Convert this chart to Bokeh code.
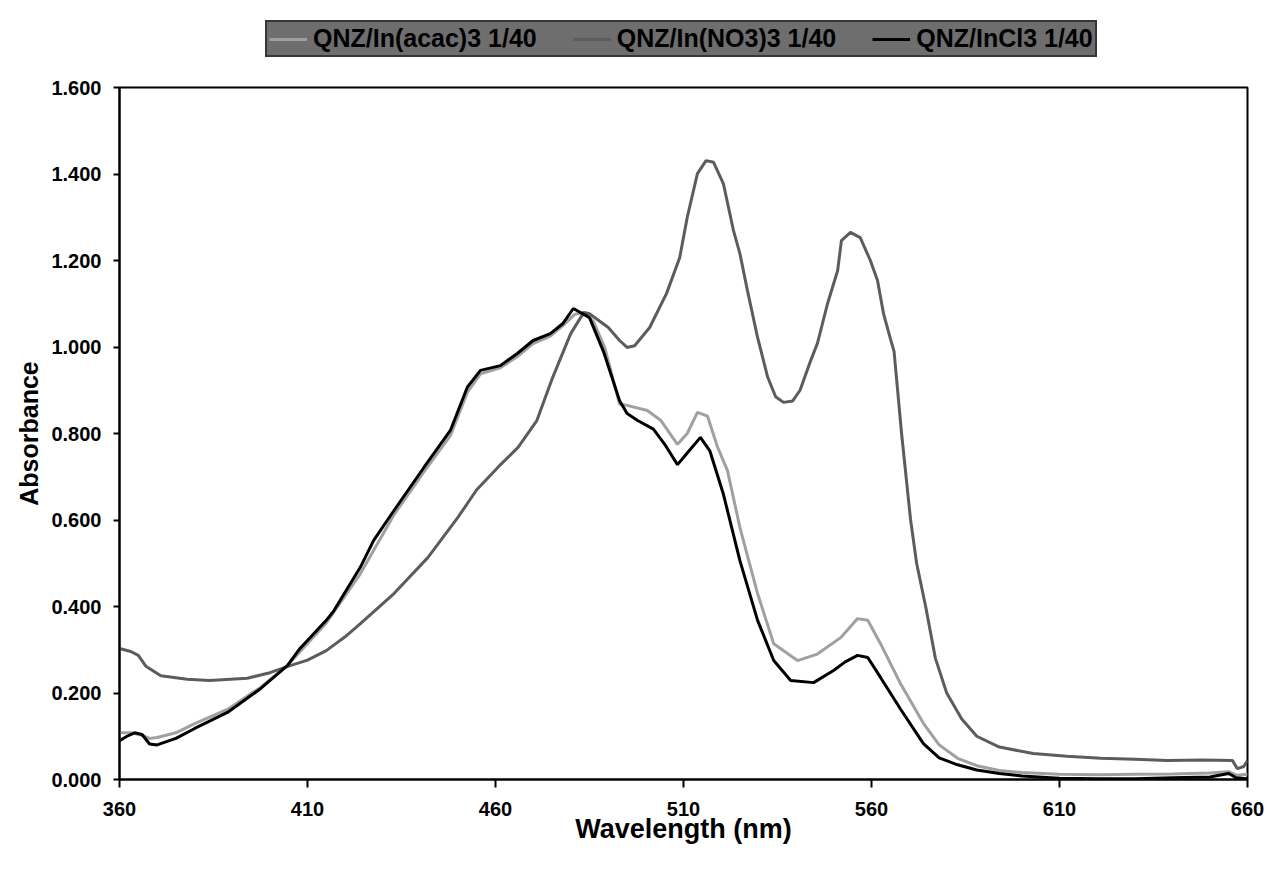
from bokeh.plotting import figure
from bokeh.layouts import column
from bokeh.models import Legend, LegendItem, FixedTicker, NumeralTickFormatter, Range1d
from bokeh.embed import file_html
from bokeh.resources import INLINE

# ---- data ----
wl_acac = [360, 363, 366, 368, 370, 375, 380, 388.7, 397.5, 404.7, 415, 424, 433, 441, 448,
           452.5, 456, 461.3, 465.8, 470, 474.6, 478, 481, 483.4, 486, 489, 493, 495, 500.4,
           504, 508.4, 511, 513.7, 516.4, 519, 521.7, 525, 529.7, 534, 540.3, 545.6, 551.8,
           556.3, 559, 562.4, 567.7, 573.8, 578, 582.9, 588, 594, 600, 610, 620, 630, 640,
           650, 655, 657, 660]
abs_acac = [0.108, 0.108, 0.102, 0.095, 0.097, 0.108, 0.129, 0.162, 0.213, 0.264, 0.362,
            0.475, 0.612, 0.712, 0.795, 0.895, 0.938, 0.952, 0.978, 1.008, 1.025, 1.050,
            1.075, 1.080, 1.060, 1.000, 0.868, 0.865, 0.853, 0.830, 0.775, 0.800, 0.849,
            0.840, 0.770, 0.714, 0.583, 0.430, 0.314, 0.275, 0.290, 0.328, 0.372, 0.368,
            0.314, 0.222, 0.130, 0.080, 0.049, 0.032, 0.021, 0.016, 0.012, 0.011, 0.012,
            0.013, 0.015, 0.018, 0.010, 0.012]

wl_no3 = [360, 363, 365, 367, 371, 378, 384, 394, 400, 405, 410, 415, 420, 424, 433, 442,
          450, 455, 461, 466, 471, 475, 480, 483.5, 485, 490, 493, 495, 497, 501, 505.5,
          509, 511, 513.7, 516, 518, 520.6, 523.3, 525, 527, 529.7, 532.4, 534.5, 536.6,
          539, 541, 543.8, 545.6, 548.3, 551, 552, 554.4, 557, 559.7, 561.6, 563.2, 565,
          566, 568, 570.4, 572, 574.4, 577, 580, 584, 588, 594, 603, 612, 621, 630, 638.7,
          648, 656, 657.3, 659, 660]
abs_no3 = [0.303, 0.296, 0.287, 0.262, 0.240, 0.232, 0.229, 0.234, 0.247, 0.262, 0.276,
           0.298, 0.330, 0.360, 0.430, 0.513, 0.606, 0.670, 0.725, 0.768, 0.830, 0.925,
           1.031, 1.080, 1.077, 1.045, 1.015, 0.999, 1.003, 1.045, 1.124, 1.207, 1.300,
           1.401, 1.431, 1.427, 1.378, 1.269, 1.216, 1.131, 1.022, 0.930, 0.885, 0.872,
           0.875, 0.900, 0.968, 1.008, 1.100, 1.177, 1.246, 1.265, 1.253, 1.200, 1.154,
           1.077, 1.020, 0.990, 0.800, 0.600, 0.500, 0.400, 0.280, 0.200, 0.140, 0.100,
           0.075, 0.060, 0.054, 0.049, 0.047, 0.044, 0.045, 0.044, 0.025, 0.030, 0.044]

wl_incl = [360, 362, 364, 366, 368, 370, 375, 380, 388.7, 397.5, 404.7, 408, 415, 417, 424,
           427.6, 433, 441, 448, 452.5, 456, 461.3, 465.8, 470, 474.6, 478, 480.7, 485,
           488.7, 493, 495, 497.8, 502, 505, 508.4, 511, 514.5, 517, 520.6, 525, 529.7, 534,
           538.5, 544.6, 549.9, 553, 556.3, 559, 562.4, 567.7, 573.8, 578, 582.9, 588, 594,
           600, 610, 620, 630, 640, 650, 655, 657, 660]
abs_incl = [0.090, 0.100, 0.108, 0.104, 0.082, 0.080, 0.095, 0.118, 0.155, 0.210, 0.264,
            0.303, 0.368, 0.390, 0.490, 0.553, 0.622, 0.722, 0.807, 0.907, 0.946, 0.957,
            0.985, 1.015, 1.031, 1.055, 1.089, 1.068, 0.990, 0.876, 0.846, 0.830, 0.810,
            0.775, 0.728, 0.755, 0.791, 0.760, 0.660, 0.506, 0.368, 0.275, 0.229, 0.224,
            0.252, 0.272, 0.287, 0.282, 0.236, 0.163, 0.083, 0.050, 0.034, 0.022, 0.014,
            0.008, 0.003, 0.002, 0.002, 0.004, 0.006, 0.014, 0.004, 0.002]

labels = ["QNZ/In(acac)3 1/40", "QNZ/In(NO3)3 1/40", "QNZ/InCl3 1/40"]
colors = ["#a0a0a0", "#5c5c5c", "black"]
x_ticks = [360, 410, 460, 510, 560, 610, 660]
y_ticks = [0.0, 0.2, 0.4, 0.6, 0.8, 1.0, 1.2, 1.4, 1.6]

FONT = "Liberation Sans"

# ---- legend strip (top) ----
lg = figure(width=1268, height=67, output_backend="svg", toolbar_location=None,
            x_axis_type=None, y_axis_type=None, x_range=Range1d(0, 1), y_range=Range1d(0, 1),
            min_border_left=0, min_border_right=0, min_border_top=0, min_border_bottom=0)
lg.outline_line_color = None
lg.grid.visible = False
lg.background_fill_color = "white"
lg.border_fill_color = "white"
# legend-only renderers, drawn outside the visible range
lr = [lg.line([-5], [-5], line_color=c, line_width=3) for c in colors]
legend = Legend(items=[LegendItem(label=labels[i], renderers=[lr[i]], index=0) for i in range(3)],
                orientation="horizontal", location=(146, 10))
legend.background_fill_color = "#6e6e6e"
legend.background_fill_alpha = 1
legend.border_line_color = "black"
legend.border_line_width = 2
legend.label_text_font = FONT
legend.label_text_font_style = "bold"
legend.label_text_font_size = "25px"
legend.label_text_color = "black"
legend.label_height = 20
legend.glyph_width = 38
legend.glyph_height = 20
legend.label_standoff = 6
legend.spacing = 36
legend.padding = 2
legend.margin = 0
lg.add_layout(legend)

# ---- main chart ----
p = figure(width=1268, height=802, output_backend="svg", toolbar_location=None,
           x_range=Range1d(360, 660), y_range=Range1d(0, 1.6),
           min_border_left=119, min_border_right=21, min_border_top=20, min_border_bottom=90)
p.background_fill_color = "white"
p.border_fill_color = "white"
p.outline_line_color = "black"
p.outline_line_width = 2
p.grid.visible = False

p.line(wl_acac, abs_acac, line_color=colors[0], line_width=3)
p.line(wl_no3, abs_no3, line_color=colors[1], line_width=3)
p.line(wl_incl, abs_incl, line_color=colors[2], line_width=3)

for ax in (p.xaxis[0], p.yaxis[0]):
    ax.axis_line_color = "black"
    ax.axis_line_width = 2
    ax.major_tick_line_color = "black"
    ax.major_tick_line_width = 2
    ax.minor_tick_line_color = None
    ax.major_tick_in = 0
    ax.major_label_text_font = FONT
    ax.major_label_text_font_style = "bold"
    ax.major_label_text_font_size = "20px"
    ax.major_label_text_color = "black"
    ax.axis_label_text_font = FONT
    ax.axis_label_text_font_style = "bold"
    ax.axis_label_text_color = "black"

p.xaxis[0].ticker = FixedTicker(ticks=x_ticks)
p.xaxis[0].major_tick_out = 8
p.xaxis[0].major_label_standoff = 14
p.xaxis[0].axis_label = "Wavelength (nm)"
p.xaxis[0].axis_label_text_font_size = "27px"
p.xaxis[0].axis_label_standoff = -5

p.yaxis[0].ticker = FixedTicker(ticks=y_ticks)
p.yaxis[0].formatter = NumeralTickFormatter(format="0.000")
p.yaxis[0].major_tick_out = 6
p.yaxis[0].major_label_standoff = 12
p.yaxis[0].axis_label = "Absorbance"
p.yaxis[0].axis_label_text_font_size = "25px"
p.yaxis[0].axis_label_standoff = 5

page = column(lg, p, spacing=0)
open("out.html", "w").write(file_html(page, INLINE))
